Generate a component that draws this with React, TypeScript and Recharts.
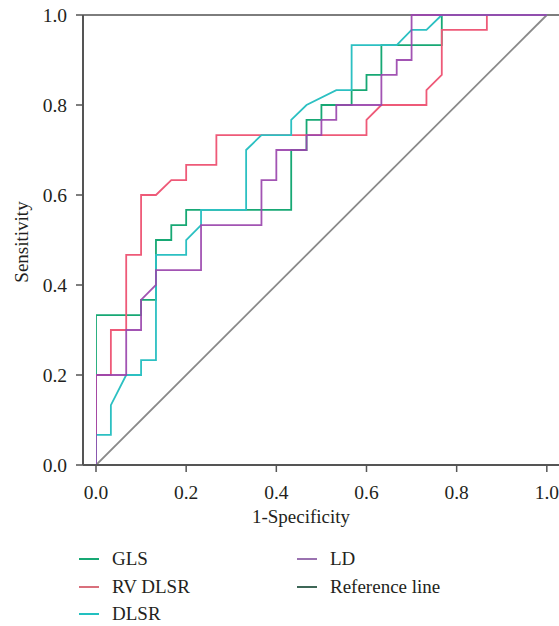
import React from 'react';
import { LineChart, Line, XAxis, YAxis, ReferenceLine, Legend } from 'recharts';

const FONT = '"Liberation Serif", "DejaVu Serif", serif';
const TEXT = '#231f20';
const AXIS = '#555555';

// 1-Specificity (x) and Sensitivity (y) vertices of each ROC curve
const GLS_X = [0, 0, 0.1, 0.1, 0.133, 0.133, 0.167, 0.167, 0.2, 0.2, 0.433, 0.433, 0.467, 0.467, 0.5, 0.5, 0.567, 0.567, 0.6, 0.6, 0.633, 0.633, 0.767, 0.767, 1];
const GLS_Y = [0, 0.333, 0.333, 0.367, 0.367, 0.5, 0.5, 0.533, 0.533, 0.567, 0.567, 0.7, 0.7, 0.767, 0.767, 0.8, 0.8, 0.833, 0.833, 0.867, 0.867, 0.933, 0.933, 1, 1];

const RV_X = [0, 0, 0.033, 0.033, 0.067, 0.067, 0.1, 0.1, 0.133, 0.167, 0.2, 0.2, 0.267, 0.267, 0.6, 0.6, 0.633, 0.733, 0.733, 0.767, 0.767, 0.867, 0.867, 1];
const RV_Y = [0, 0.2, 0.2, 0.3, 0.3, 0.467, 0.467, 0.6, 0.6, 0.633, 0.633, 0.667, 0.667, 0.733, 0.733, 0.767, 0.8, 0.8, 0.833, 0.867, 0.967, 0.967, 1, 1];

const DLSR_X = [0, 0, 0.033, 0.033, 0.067, 0.1, 0.1, 0.133, 0.133, 0.2, 0.2, 0.233, 0.233, 0.333, 0.333, 0.367, 0.433, 0.433, 0.467, 0.533, 0.567, 0.567, 0.667, 0.7, 0.733, 0.767, 1];
const DLSR_Y = [0, 0.067, 0.067, 0.133, 0.2, 0.2, 0.233, 0.233, 0.467, 0.467, 0.5, 0.533, 0.567, 0.567, 0.7, 0.733, 0.733, 0.767, 0.8, 0.833, 0.833, 0.933, 0.933, 0.967, 0.967, 1, 1];

const LD_X = [0, 0, 0.067, 0.067, 0.1, 0.1, 0.133, 0.133, 0.233, 0.233, 0.367, 0.367, 0.4, 0.4, 0.467, 0.467, 0.5, 0.5, 0.533, 0.533, 0.633, 0.633, 0.667, 0.667, 0.7, 0.7, 1];
const LD_Y = [0, 0.2, 0.2, 0.3, 0.3, 0.367, 0.4, 0.433, 0.433, 0.533, 0.533, 0.633, 0.633, 0.7, 0.7, 0.733, 0.733, 0.767, 0.767, 0.8, 0.8, 0.867, 0.867, 0.9, 0.9, 1, 1];

const REF_X = [0, 1];
const REF_Y = [0, 1];

const TICKS = [0, 0.2, 0.4, 0.6, 0.8, 1.0];

const SERIES_NAMES = ['GLS', 'RV DLSR', 'DLSR', 'LD', 'Reference line'];
const LINE_COLORS = ['#17a874', '#ee5a78', '#2cc0c2', '#9a45ad', '#8a8a8a'];
const LEGEND_COLORS = ['#17a874', '#d9707c', '#22c0c0', '#9a72b0', '#3e6757'];

const toPoints = (xs: number[], ys: number[]) => xs.map((x, i) => ({ x, y: ys[i] }));

const gls = toPoints(GLS_X, GLS_Y);
const rv = toPoints(RV_X, RV_Y);
const dlsr = toPoints(DLSR_X, DLSR_Y);
const ld = toPoints(LD_X, LD_Y);
const ref = toPoints(REF_X, REF_Y);

const renderLegend = () => (
  <div style={{ position: 'relative', width: 559, height: 90, overflow: 'hidden', fontFamily: FONT, fontSize: 19, color: TEXT }}>
    {SERIES_NAMES.map((name, i) => {
      const col = i < 3 ? 0 : 1;
      const row = i < 3 ? i : i - 3;
      return (
        <div
          key={name}
          style={{
            position: 'absolute',
            left: col === 0 ? 79 : 297,
            top: 13 + row * 27.5,
            height: 22,
            display: 'flex',
            alignItems: 'center',
            whiteSpace: 'nowrap',
          }}
        >
          <span style={{ display: 'inline-block', width: 20, height: 2, background: LEGEND_COLORS[i], marginRight: 13 }} />
          {name}
        </div>
      );
    })}
  </div>
);

const XLabel = (props: any) => {
  const vb = props.viewBox || { x: 83, y: 465, width: 476 };
  return (
    <text x={vb.x + vb.width / 2 - 20} y={vb.y + 58} textAnchor="middle" fontFamily={FONT} fontSize={19} fill={TEXT}>
      1-Specificity
    </text>
  );
};

const YLabel = () => (
  <text x={28} y={242} textAnchor="middle" fontFamily={FONT} fontSize={19} fill={TEXT} transform="rotate(-90, 28, 242)">
    Sensitivity
  </text>
);

export default function App() {
  return (
    <div style={{ position: 'fixed', left: 0, top: 0, width: 559, height: 626, overflow: 'hidden', background: '#fff' }}>
      <LineChart width={559} height={626} margin={{ top: 15, right: 0, bottom: 1, left: 0 }}>
        <XAxis
          dataKey="x"
          type="number"
          domain={[0, 1.027]}
          ticks={TICKS}
          allowDataOverflow
          padding={{ left: 13, right: 0 }}
          tickFormatter={(v: number) => v.toFixed(1)}
          tick={{ fontFamily: FONT, fontSize: 19.5, fill: TEXT }}
          tickSize={7}
          tickMargin={13}
          axisLine={{ stroke: AXIS, strokeWidth: 2 }}
          tickLine={{ stroke: AXIS, strokeWidth: 1.5 }}
          height={70}
          label={<XLabel />}
        />
        <YAxis
          type="number"
          domain={[0, 1]}
          ticks={TICKS}
          tickFormatter={(v: number) => v.toFixed(1)}
          tick={{ fontFamily: FONT, fontSize: 19.5, fill: TEXT }}
          tickSize={7}
          tickMargin={9}
          width={83}
          axisLine={{ stroke: AXIS, strokeWidth: 2 }}
          tickLine={{ stroke: AXIS, strokeWidth: 1.5 }}
          label={<YLabel />}
        />
        <ReferenceLine y={1} stroke="#7d7d7d" strokeWidth={2} />
        <Legend verticalAlign="bottom" content={renderLegend} wrapperStyle={{ left: 0, width: 559, height: 90 }} />
        <Line data={ref} dataKey="y" name={SERIES_NAMES[4]} stroke={LINE_COLORS[4]} strokeWidth={1.8} dot={false} isAnimationActive={false} type="linear" />
        <Line data={gls} dataKey="y" name={SERIES_NAMES[0]} stroke={LINE_COLORS[0]} strokeWidth={1.8} dot={false} isAnimationActive={false} type="linear" />
        <Line data={rv} dataKey="y" name={SERIES_NAMES[1]} stroke={LINE_COLORS[1]} strokeWidth={1.8} dot={false} isAnimationActive={false} type="linear" />
        <Line data={dlsr} dataKey="y" name={SERIES_NAMES[2]} stroke={LINE_COLORS[2]} strokeWidth={1.8} dot={false} isAnimationActive={false} type="linear" />
        <Line data={ld} dataKey="y" name={SERIES_NAMES[3]} stroke={LINE_COLORS[3]} strokeWidth={1.8} strokeOpacity={0.92} dot={false} isAnimationActive={false} type="linear" />
      </LineChart>
    </div>
  );
}
